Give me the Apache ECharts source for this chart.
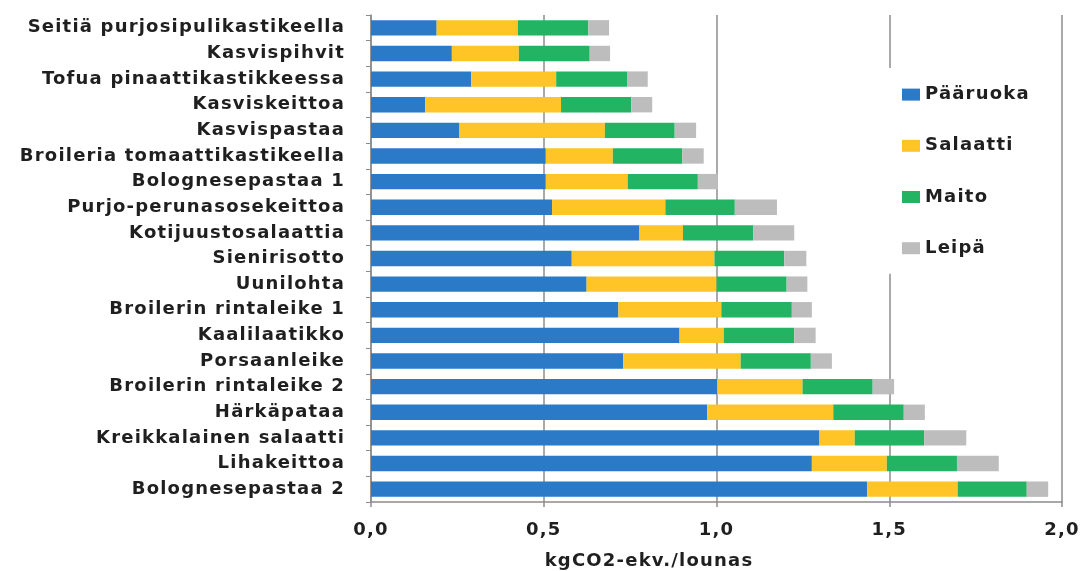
<!DOCTYPE html>
<html>
<head>
<meta charset="utf-8">
<script src="https://cdn.jsdelivr.net/npm/echarts@6/dist/echarts.min.js"></script>
<style>
html,body{margin:0;padding:0;background:#fff;}
#chart{width:1091px;height:571px;}
</style>
</head>
<body>
<div id="chart"></div>
<script>
// Categories (top to bottom as shown)
const categories = [
  "Seitiä purjosipulikastikeella",
  "Kasvispihvit",
  "Tofua pinaattikastikkeessa",
  "Kasviskeittoa",
  "Kasvispastaa",
  "Broileria tomaattikastikeella",
  "Bolognesepastaa 1",
  "Purjo-perunasosekeittoa",
  "Kotijuustosalaattia",
  "Sienirisotto",
  "Uunilohta",
  "Broilerin rintaleike 1",
  "Kaalilaatikko",
  "Porsaanleike",
  "Broilerin rintaleike 2",
  "Härkäpataa",
  "Kreikkalainen salaatti",
  "Lihakeittoa",
  "Bolognesepastaa 2"
];
const seriesNames = ["Pääruoka", "Salaatti", "Maito", "Leipä"];
const paaruoka = [0.19, 0.234, 0.29, 0.157, 0.256, 0.506, 0.506, 0.524, 0.777, 0.581, 0.624, 0.716, 0.893, 0.730, 1.002, 0.973, 1.298, 1.276, 1.436];
const salaatti = [0.235, 0.194, 0.246, 0.393, 0.421, 0.194, 0.237, 0.328, 0.126, 0.413, 0.376, 0.298, 0.128, 0.340, 0.247, 0.365, 0.102, 0.217, 0.262];
const maito    = [0.204, 0.205, 0.205, 0.203, 0.202, 0.201, 0.203, 0.201, 0.203, 0.202, 0.203, 0.204, 0.204, 0.203, 0.203, 0.204, 0.201, 0.203, 0.200];
const leipa    = [0.060, 0.059, 0.060, 0.061, 0.062, 0.062, 0.058, 0.122, 0.119, 0.064, 0.060, 0.058, 0.062, 0.061, 0.062, 0.061, 0.122, 0.121, 0.062];
const xTickLabels = ["0,0", "0,5", "1,0", "1,5", "2,0"];
const axisName = "kgCO2-ekv./lounas";

const colors = ["#2A7AC7", "#FFC426", "#22B462", "#BDBDBD"];
const values = [paaruoka, salaatti, maito, leipa];

// Slightly widen text (the reference lettering is horizontally wide)
(function () {
  const proto = window.CanvasRenderingContext2D && CanvasRenderingContext2D.prototype;
  if (!proto || !('letterSpacing' in proto)) return;
  const d = Object.getOwnPropertyDescriptor(proto, 'font');
  if (!d || !d.set) return;
  Object.defineProperty(proto, 'font', {
    configurable: true,
    get: function () { return d.get.call(this); },
    set: function (v) { d.set.call(this, v); this.letterSpacing = '1.2px'; }
  });
})();

const chart = echarts.init(document.getElementById('chart'), null, {renderer: 'canvas'});
const FONT = "'DejaVu Sans', 'Liberation Sans', sans-serif";
const TXT = '#1f1f1f';

chart.setOption({
  animation: false,
  backgroundColor: '#ffffff',
  textStyle: {fontFamily: FONT},
  grid: {left: 371, right: 29, top: 15, bottom: 69, containLabel: false, outerBoundsMode: 'none'},
  legend: {
    orient: 'vertical',
    left: 886,
    top: 68,
    backgroundColor: '#ffffff',
    padding: [17, 12, 16, 16],
    itemGap: 32,
    itemWidth: 18,
    itemHeight: 12,
    icon: 'rect',
    textStyle: {fontSize: 18, lineHeight: 18, color: TXT, fontFamily: FONT, fontWeight: 'bold'},
    data: seriesNames
  },
  xAxis: {
    type: 'value',
    min: 0,
    max: 2,
    interval: 0.5,
    name: axisName,
    nameLocation: 'middle',
    nameGap: 50,
    nameTextStyle: {fontSize: 18, color: TXT, fontWeight: 'bold', padding: [0, 135, 0, 0]},
    axisLine: {show: true, lineStyle: {color: '#8c8c8c', width: 1.5}},
    axisTick: {show: true, length: 5, lineStyle: {color: '#8c8c8c', width: 1.5}},
    axisLabel: {
      fontSize: 18, color: TXT, margin: 19, fontWeight: 'bold',
      formatter: function (v) { return xTickLabels[Math.round(v / 0.5)]; }
    },
    splitLine: {show: true, lineStyle: {color: '#8c8c8c', width: 1.5}}
  },
  yAxis: {
    type: 'category',
    inverse: true,
    data: categories,
    axisLine: {show: true, lineStyle: {color: '#8c8c8c', width: 1.5}},
    axisTick: {show: true, length: 5, lineStyle: {color: '#8c8c8c', width: 1}},
    axisLabel: {fontSize: 18, color: TXT, margin: 26, fontWeight: 'bold'}
  },
  series: seriesNames.map(function (name, i) {
    return {
      name: name,
      type: 'bar',
      stack: 'total',
      barWidth: '60%',
      itemStyle: {color: colors[i]},
      data: values[i]
    };
  })
});
</script>
</body>
</html>
